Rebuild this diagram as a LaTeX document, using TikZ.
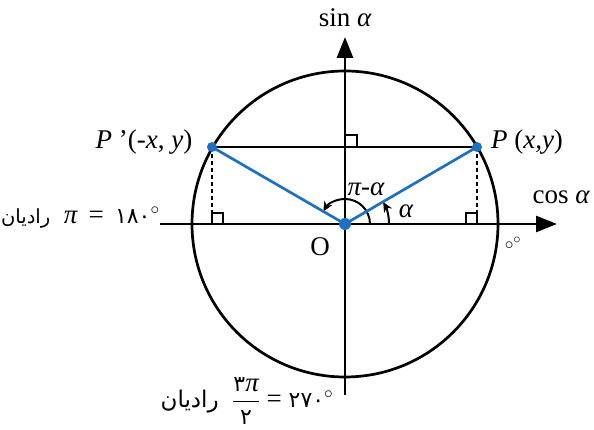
\documentclass[tikz,border=0pt]{standalone}
\usepackage{fontspec}
\setmainfont{Liberation Serif}
\newfontfamily\arabicfont[Script=Arabic]{DejaVu Sans}
\TeXXeTstate=1
\usetikzlibrary{arrows.meta}
\definecolor{segblue}{RGB}{30,112,192}
\newcommand\gal{{\itshape α}}
\newcommand\gpi{{\itshape π}}
\begin{document}
\begin{tikzpicture}[x=1pt,y=1pt,line width=2.7pt,
  axis/.style={-{Triangle[length=21pt,width=16pt]}},
  seg/.style={segblue,line width=2.7pt},
  dot/.style={circle,fill=segblue,inner sep=0pt,minimum size=10pt},
  ang/.style={line width=2pt,-{Stealth[length=10pt,width=9pt]}},
  rmark/.style={line width=2pt},
  drop/.style={line width=2.6pt,dash pattern=on 4pt off 3pt},
  lbl/.style={font=\fontsize{27}{30}\selectfont,inner sep=1pt}]
\useasboundingbox (0,0) rectangle (594,430);
\coordinate (O) at (345,206);
\coordinate (P) at (477,283);
\coordinate (Pp) at (212,283);
\coordinate (Px) at (477,206);
\coordinate (Ppx) at (212,206);
\coordinate (xL) at (160,206);
\coordinate (xR) at (557,206);
\coordinate (yB) at (345,35);
\coordinate (yT) at (345,393);
% circle
\draw (O) circle (153pt);
% axes
\draw[axis] (xL) -- (xR);
\draw[axis] (yB) -- (yT);
% chord
\draw (Pp) -- (P);
% dashed drops
\draw[drop] (P) -- (Px);
\draw[drop] (Pp) -- (Ppx);
% right angle marks
\draw[rmark] (345,283) rectangle (357,295);
\draw[rmark] (466,206) rectangle (477,217);
\draw[rmark] (212,206) rectangle (223,217);
% angle arcs
\draw[ang] ([shift={(0:44pt)}]O) arc[start angle=0,end angle=30,radius=44pt];
\draw[ang] ([shift={(0:25pt)}]O) arc[start angle=0,end angle=150,radius=25pt];
% blue segments
\draw[seg] (Pp) -- (O) -- (P);
\node[dot] (dP) at (P) {};
\node[dot] (dPp) at (Pp) {};
\node[dot,minimum size=12pt] (dO) at (O) {};
% labels
\node[lbl] (sinl) at (345,412) {sin \gal};
\node[lbl] (cosl) at (561,233) {cos \gal};
\node[lbl] (Pl) at (527,288) {{\itshape P} ({\itshape x,y})};
\node[lbl] (Ppl) at (144,288) {{\itshape P} ’(-{\itshape x}, {\itshape y})};
\node[lbl] (Ol) at (320,183) {O};
\node[lbl] (al) at (406,219) {\gal};
\node[lbl] (pal) at (366,241) {\gpi-\gal};
\node[lbl,font=\fontsize{19}{20}\selectfont] (zl) at (513,187) {$\circ^{\circ}$};
\node[lbl,anchor=east] (left) at (162,212) {{\arabicfont\fontsize{19.5}{22}\selectfont\beginR رادیان\endR}\ \ \gpi\ \,=\, {\arabicfont\fontsize{22}{26}\selectfont ۱۸۰}$^{\circ}$};
\node[lbl] (bot) at (247,29) {{\arabicfont\fontsize{23}{26}\selectfont\beginR رادیان\endR}\ \ $\displaystyle\frac{\hbox{\arabicfont\fontsize{22}{26}\selectfont ۳}\hbox{\gpi}}{\hbox{\arabicfont\fontsize{22}{26}\selectfont ۲}}$ = {\arabicfont\fontsize{22}{26}\selectfont ۲۷۰}$^{\circ}$};
\end{tikzpicture}
\end{document}
